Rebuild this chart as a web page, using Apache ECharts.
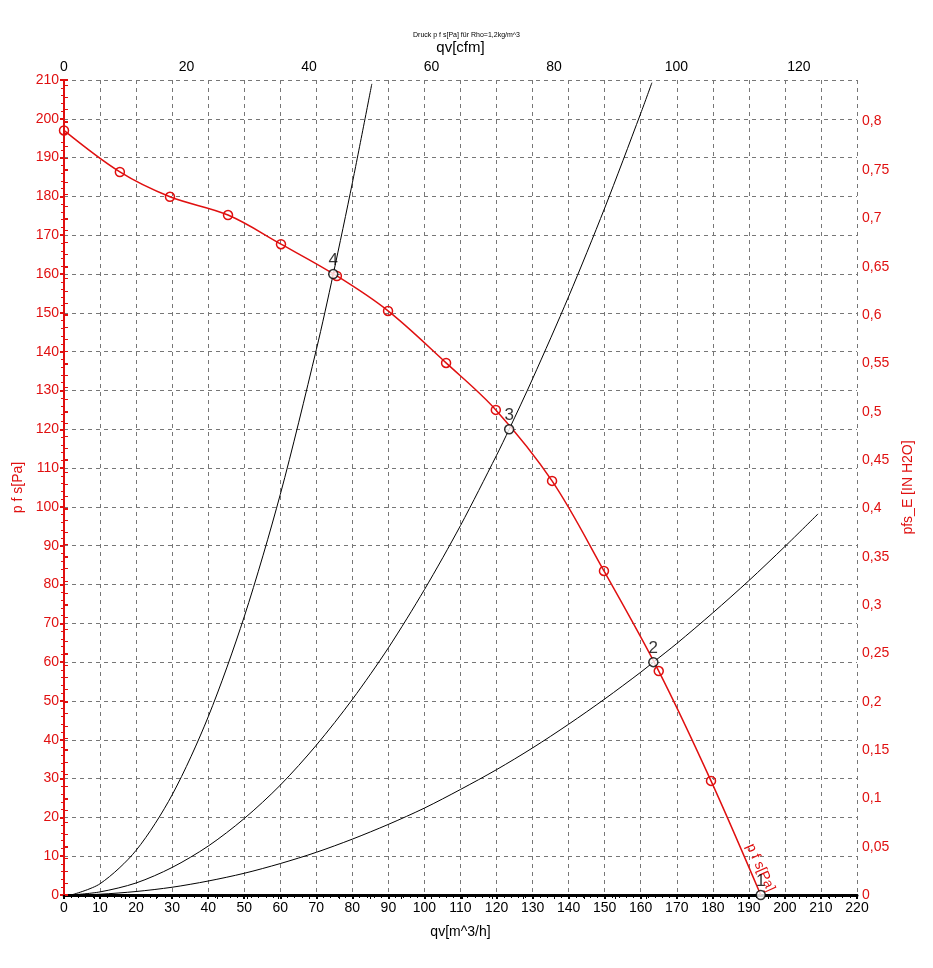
<!DOCTYPE html>
<html><head><meta charset="utf-8">
<script src="https://cdn.jsdelivr.net/npm/echarts@6/dist/echarts.min.js"></script>
<style>html,body{margin:0;padding:0;background:#fff}#c{width:933px;height:968px}</style>
</head><body><div id="c"></div>
<script>
// Fan curve p_fs [Pa] vs qv [m^3/h]
const fanQ = [0, 15.5, 29.4, 45.5, 60.2, 75.7, 89.9, 106.0, 119.8, 135.4, 149.8, 165.0, 179.5, 193.3];
const fanP = [197, 186.3, 179.9, 175.2, 167.7, 159.5, 150.5, 137.1, 125.0, 106.7, 83.5, 57.7, 29.4, 0];
// System (resistance) curves
const sysAQ = [2, 10, 20, 30, 40, 50, 60, 70, 74.7, 80, 85.4];
const sysAP = [0, 2.9, 11.5, 25.8, 45.9, 71.7, 103.2, 140.5, 160, 183.5, 209];
const sysBQ = [2, 10, 20, 30, 40, 50, 60, 70, 80, 90, 100, 110, 120, 123.5, 130, 140, 150, 160, 163.1];
const sysBP = [0, 0.8, 3.1, 7.1, 12.6, 19.7, 28.3, 38.6, 50.4, 63.7, 78.7, 95.2, 113.3, 120, 133, 154.2, 177, 201.4, 209.3];
const sysCQ = [2, 10, 20, 30, 40, 50, 60, 70, 80, 90, 100, 110, 120, 130, 140, 150, 160, 163.5, 170, 180, 190, 200, 209.2];
const sysCP = [0, 0.2, 0.9, 2.0, 3.6, 5.6, 8.1, 11.0, 14.4, 18.2, 22.4, 27.2, 32.3, 37.9, 44.0, 50.5, 57.4, 60, 64.8, 72.7, 81.0, 89.8, 98.2];
// Operating points
const opQ = [193.3, 163.5, 123.5, 74.7];
const opP = [0, 60, 120, 160];
const opLabels = ['1', '2', '3', '4'];
// Axes
const qMin = 0, qMax = 220, qStep = 10;
const pMin = 0, pMax = 210, pStep = 10;
const M3H_PER_CFM = 1.69901;
const PA_PER_INH2O = 249.089;

const FONT = '"Liberation Sans", Arial, sans-serif';
const RED = '#e01010';

function zip(a, b) { return a.map((v, i) => [v, b[i]]); }

const fanData = zip(fanQ, fanP).map((d, i) => {
  if (i === fanQ.length - 1) {
    return { value: d, symbol: 'circle', symbolSize: 1,
      itemStyle: { color: 'rgba(0,0,0,0)', borderWidth: 0 },
      label: { show: true, formatter: 'p f s[Pa]', rotate: -65.5, color: RED, fontSize: 14, fontFamily: FONT,
               position: 'inside', align: 'center', verticalAlign: 'middle', offset: [-25, -11] } };
  }
  return d;
});

const chart = echarts.init(document.getElementById('c'));
chart.setOption({
  animation: false,
  backgroundColor: '#fff',
  title: { text: 'Druck p f s[Pa] für Rho=1,2kg/m^3', left: 'center', top: 27, textStyle: { fontSize: 7, fontWeight: 'normal', color: '#000', fontFamily: FONT } },
  grid: { left: 64, right: 76, top: 80, bottom: 73, containLabel: false },
  xAxis: [
    { type: 'value', position: 'bottom', min: qMin, max: qMax, interval: qStep,
      name: 'qv[m^3/h]', nameLocation: 'middle', nameGap: 30,
      nameTextStyle: { color: '#000', fontSize: 14, fontFamily: FONT },
      axisLine: { lineStyle: { color: '#000', width: 2 } },
      axisTick: { show: true, length: 4, lineStyle: { color: '#000', width: 2 } },
      minorTick: { show: true, splitNumber: 5, length: 3, lineStyle: { color: '#000' } },
      axisLabel: { color: '#000', fontSize: 14, fontFamily: FONT, margin: 6 },
      splitLine: { show: true, lineStyle: { color: '#777', type: [4, 4], width: 1 } } },
    { type: 'value', position: 'top', min: 0, max: qMax / M3H_PER_CFM, interval: 20,
      name: 'qv[cfm]', nameLocation: 'middle', nameGap: 25,
      nameTextStyle: { color: '#000', fontSize: 15, fontFamily: FONT },
      axisLine: { lineStyle: { color: '#000', width: 3 } },
      axisTick: { show: true, inside: true, length: 4, lineStyle: { color: '#000' } },
      minorTick: { show: true, splitNumber: 4, length: 4, lineStyle: { color: '#000' } },
      axisLabel: { color: '#000', fontSize: 14, fontFamily: FONT, margin: 6, showMaxLabel: false },
      splitLine: { show: false } }
  ],
  yAxis: [
    { type: 'value', position: 'left', min: pMin, max: pMax, interval: pStep,
      name: 'p f s[Pa]', nameLocation: 'middle', nameGap: 36,
      nameTextStyle: { color: RED, fontSize: 14, fontFamily: FONT },
      axisLine: { lineStyle: { color: RED, width: 2 } },
      axisTick: { show: true, length: 4, lineStyle: { color: RED, width: 2 } },
      minorTick: { show: true, splitNumber: 5, length: 3, lineStyle: { color: RED } },
      axisLabel: { color: RED, fontSize: 14, fontFamily: FONT, margin: 5 },
      splitLine: { show: true, lineStyle: { color: '#777', type: [4, 4], width: 1 } } },
    { type: 'value', position: 'right', min: 0, max: pMax / PA_PER_INH2O, interval: 0.05,
      name: 'pfs_E [IN H2O]', nameLocation: 'middle', nameGap: 44,
      nameTextStyle: { color: RED, fontSize: 14, fontFamily: FONT },
      axisLine: { lineStyle: { color: RED, width: 2 } },
      axisTick: { show: true, length: 4, lineStyle: { color: RED, width: 2 } },
      minorTick: { show: true, splitNumber: 4, length: 4, lineStyle: { color: RED } },
      axisLabel: { color: RED, fontSize: 14, fontFamily: FONT, margin: 5, showMaxLabel: false,
        formatter: v => { const s = (+v.toFixed(3)).toString(); return s.replace('.', ','); } },
      splitLine: { show: false } }
  ],
  series: [
    { type: 'line', data: zip(sysAQ, sysAP), smooth: 0.3, symbol: 'none', lineStyle: { color: '#000', width: 1 }, z: 3 },
    { type: 'line', data: zip(sysBQ, sysBP), smooth: 0.3, symbol: 'none', lineStyle: { color: '#000', width: 1 }, z: 3 },
    { type: 'line', data: zip(sysCQ, sysCP), smooth: 0.3, symbol: 'none', lineStyle: { color: '#000', width: 1 }, z: 3 },
    { type: 'line', data: fanData, smooth: 0.35, symbol: 'circle', symbolSize: 9, showAllSymbol: true,
      itemStyle: { color: 'rgba(0,0,0,0)', borderColor: RED, borderWidth: 1.5 },
      lineStyle: { color: RED, width: 1.5 }, z: 4 },
    { type: 'scatter', data: zip(opQ, opP).map((d, i) => ({ value: d, name: opLabels[i] })),
      symbol: 'circle', symbolSize: 9,
      itemStyle: { color: '#fff', borderColor: '#000', borderWidth: 1.5 },
      label: { show: true, position: 'top', distance: 0, formatter: p => p.name, color: '#000', fontSize: 17, fontFamily: FONT },
      z: 5 }
  ]
});
</script></body></html>
